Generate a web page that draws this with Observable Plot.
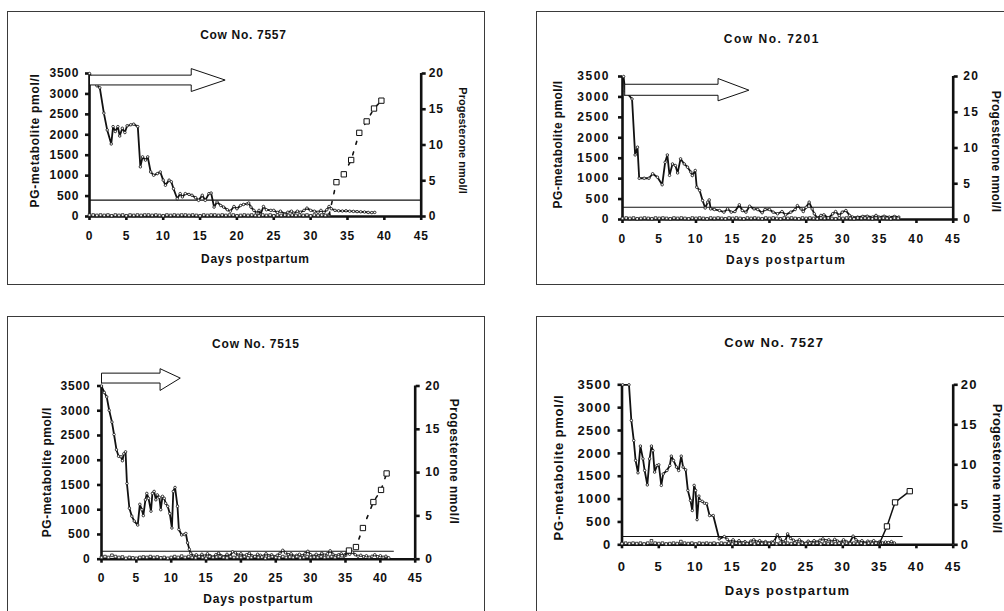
<!DOCTYPE html>
<html><head><meta charset="utf-8">
<script src="https://cdn.jsdelivr.net/npm/d3@7"></script>
<script src="https://cdn.jsdelivr.net/npm/@observablehq/plot@0.6"></script>
<style>
html,body{margin:0;padding:0;background:#fff;overflow:hidden;}
#page{position:relative;width:1004px;height:611px;overflow:hidden;background:#fff;}
.box{position:absolute;border:1.5px solid #3a3a3a;box-sizing:border-box;}
.chart{position:absolute;}
</style></head><body><div id="page"></div>
<script>
// ---------- shared axes / labels ----------
const xDomain = [0, 45];
const pgDomain = [0, 3500];
const progMax = 20;
const xTicks = [0, 5, 10, 15, 20, 25, 30, 35, 40, 45];
const pgTicks = [0, 500, 1000, 1500, 2000, 2500, 3000, 3500];
const progTicks = [0, 5, 10, 15, 20];
const xLabel = "Days postpartum";
const yLabelLeft = "PG-metabolite pmol/l";
const yLabelRight = "Progesterone nmol/l";
const cowTitles = ["Cow No. 7557", "Cow No. 7201", "Cow No. 7515", "Cow No. 7527"];

// ---------- Cow 7557 ----------
const pg7557 = [[0,3500],[1.0,3200],[1.4,3150],[1.95,2530],[2.4,2120],[2.95,1775],[3.2,2200],[3.5,2080],[3.85,2200],[4.1,1970],[4.45,2160],[4.8,2055],[5.1,2220],[5.6,2245],[6.0,2260],[6.55,2200],[6.9,1215],[7.2,1460],[7.6,1380],[7.9,1460],[8.3,1090],[8.7,1010],[9.2,1050],[9.6,1090],[10.0,890],[10.3,765],[10.8,890],[11.1,850],[11.4,680],[11.9,435],[12.3,560],[12.6,480],[13.0,560],[13.5,540],[13.9,520],[14.4,460],[14.8,395],[15.3,520],[15.7,395],[16.2,560],[16.5,575],[16.9,230],[17.3,355],[17.8,270],[18.2,230],[18.7,165],[19.1,130],[19.6,245],[20.0,190],[20.5,270],[20.9,295],[21.4,310],[21.6,330],[21.9,230],[22.3,150],[22.7,80],[23.0,150],[23.2,50],[23.6,245],[24.0,165],[24.6,150],[25.0,150],[25.5,100],[25.9,130],[26.5,65],[26.9,105],[27.4,130],[27.7,80],[28.2,130],[28.6,105],[29.1,150],[29.5,205],[30.0,150],[30.5,130],[31.0,105],[31.4,150],[31.8,100],[32.2,165],[32.5,245],[32.8,190],[33.3,150],[33.8,140],[34.3,135],[34.8,140],[35.3,130],[35.8,125],[36.3,120],[36.8,115],[37.3,110],[37.8,100],[38.3,95],[38.7,100]];
const prog7557Base = [[0,0.2],[0.5,0.2],[1,0.15],[1.5,0.2],[2,0.15],[2.5,0.2],[3,0.1],[3.5,0.2],[4,0.15],[4.5,0.2],[5,0.1],[5.5,0.2],[6,0.15],[6.5,0.2],[7,0.15],[7.5,0.2],[8,0.2],[8.5,0.15],[9,0.2],[9.5,0.15],[10,0.1],[10.5,0.2],[11,0.15],[11.5,0.2],[12,0.15],[12.5,0.2],[13,0.2],[13.5,0.15],[14,0.2],[14.5,0.15],[15,0.1],[15.5,0.2],[16,0.15],[16.5,0.2],[17,0.2],[17.5,0.15],[18,0.2],[18.5,0.15],[19,0.2],[19.5,0.2],[20,0.1],[20.5,0.15],[21,0.2],[21.5,0.15],[22,0.2],[22.5,0.15],[23,0.1],[23.5,0.2],[24,0.15],[24.5,0.2],[25,0.1],[25.5,0.2],[26,0.15],[26.5,0.2],[27,0.15],[27.5,0.2],[28,0.15],[28.5,0.2],[29,0.15],[29.5,0.2],[30,0.1],[30.5,0.2],[31,0.15],[31.5,0.2],[32,0.15],[32.5,0.2]];
const prog7557Rise = [[33.5,4.8],[34.5,5.9],[35.5,7.9],[36.6,11.7],[37.6,13.3],[38.6,15.1],[39.6,16.2]];
const thr7557 = [400, 0, 45];            // level, from day, to day
const arrow7557Days = [0, 13.8, 18.4];  // start, head base, tip
const arrow7557Levels = [3060, 3220, 3340, 3460, 3620]; // head bottom, body bottom, tip, body top, head top

// ---------- Cow 7201 ----------
const pg7201 = [[0.15,3500],[0.35,3150],[1.3,2950],[1.72,1580],[2.04,1770],[2.27,1010],[2.95,1010],[3.6,1010],[4.1,1120],[4.76,1035],[5.4,850],[5.8,1400],[6.1,1580],[6.4,1080],[6.8,1360],[7.2,1320],[7.5,1140],[7.9,1485],[8.4,1360],[8.85,1280],[9.3,1160],[9.5,1075],[9.9,1200],[10.1,790],[10.5,710],[10.9,465],[11.25,280],[11.6,425],[11.8,480],[12.0,260],[12.5,245],[13.2,220],[13.8,180],[14.3,260],[14.8,180],[15.3,195],[15.9,360],[16.3,220],[16.8,180],[17.3,325],[17.9,260],[18.4,245],[19.0,165],[19.4,245],[20.0,245],[20.5,180],[21.1,140],[21.7,195],[22.2,115],[22.9,180],[23.5,245],[23.8,340],[24.3,260],[24.6,195],[25.0,300],[25.4,425],[25.8,260],[26.1,140],[26.5,35],[27.0,100],[27.4,115],[28.0,35],[28.6,140],[29.0,195],[29.5,100],[29.9,180],[30.4,220],[30.9,100],[31.3,60],[32.0,60],[32.7,75],[33.3,80],[34.0,60],[34.5,100],[34.9,60],[35.6,80],[36.3,60],[37.0,75],[37.6,60]];
const prog7201Base = [[0,0.15],[0.5,0.2],[1,0.15],[1.5,0.2],[2,0.1],[2.5,0.15],[3,0.2],[3.5,0.15],[4,0.1],[4.5,0.2],[5,0.15],[5.5,0.2],[6,0.15],[6.5,0.1],[7,0.2],[7.5,0.15],[8,0.2],[8.5,0.15],[9,0.1],[9.5,0.2],[10,0.15],[10.5,0.2],[11,0.15],[11.5,0.1],[12,0.2],[12.5,0.15],[13,0.2],[13.5,0.15],[14,0.1],[14.5,0.2],[15,0.15],[15.5,0.2],[16,0.15],[16.5,0.1],[17,0.2],[17.5,0.15],[18,0.2],[18.5,0.15],[19,0.1],[19.5,0.2],[20,0.15],[20.5,0.2],[21,0.15],[21.5,0.1],[22,0.2],[22.5,0.15],[23,0.2],[23.5,0.15],[24,0.1],[24.5,0.2],[25,0.15],[25.5,0.2],[26,0.15],[26.5,0.1],[27,0.2],[27.5,0.15],[28,0.2],[28.5,0.15],[29,0.1],[29.5,0.2],[30,0.15],[30.5,0.2],[31,0.15],[31.5,0.1],[32,0.2],[32.5,0.15],[33,0.2],[33.5,0.15],[34,0.1],[34.5,0.2],[35,0.15],[35.5,0.2],[36,0.15],[36.5,0.1],[37,0.2],[37.5,0.15]];
const prog7201Rise = [];
const thr7201 = [300, 0, 45];
const arrow7201Days = [0.3, 13.0, 17.2];
const arrow7201Levels = [2905, 3040, 3165, 3310, 3450];

// ---------- Cow 7515 ----------
const pg7515 = [[0,3500],[0.4,3370],[0.75,3280],[1.1,3010],[1.5,2770],[1.8,2520],[2.15,2210],[2.45,2080],[2.8,2070],[3.0,1990],[3.2,2130],[3.45,2170],[3.65,1530],[4.0,1030],[4.35,870],[4.7,770],[5.2,690],[5.5,1110],[5.8,1000],[6.0,880],[6.3,1200],[6.5,1330],[6.75,1230],[7.1,970],[7.3,1330],[7.55,1370],[7.8,1200],[8.0,1300],[8.3,1250],[8.5,1000],[8.75,1270],[9.0,1230],[9.2,1130],[9.5,1070],[9.8,920],[10.1,630],[10.3,1370],[10.55,1450],[10.9,1070],[11.1,600],[11.5,490],[11.9,500],[12.1,520],[12.35,330],[12.6,200],[12.8,120],[13.2,60],[13.6,90],[14.0,50],[14.4,100],[14.8,60],[15.2,110],[15.6,70],[16.0,40],[16.4,90],[16.8,120],[17.2,70],[17.6,50],[18.0,100],[18.4,60],[18.8,150],[19.2,130],[19.6,80],[20.0,110],[20.4,60],[20.8,90],[21.2,120],[21.6,70],[22.0,50],[22.4,100],[22.8,80],[23.2,60],[23.6,110],[24.0,70],[24.4,90],[24.8,50],[25.2,80],[25.6,120],[26.0,180],[26.4,130],[26.8,90],[27.2,110],[27.6,60],[28.0,80],[28.4,100],[28.8,70],[29.2,110],[29.6,160],[30.0,90],[30.4,60],[30.8,100],[31.2,70],[31.6,120],[32.0,80],[32.4,110],[32.8,170],[33.2,100],[33.6,70],[34.0,90],[34.4,110],[34.8,60],[35.2,130],[35.6,100],[36.0,140],[36.4,90],[36.8,60],[37.2,80],[37.6,50],[38.0,70],[38.4,40],[38.8,60],[39.2,90],[39.6,50],[40.0,70],[40.4,40],[40.8,60],[41.2,30]];
const prog7515Base = [[0,0.2],[0.5,0.3],[1,0.2],[1.5,0.45],[2,0.3],[2.5,0.2],[3,0.25],[3.5,0.1],[4,0.2],[4.5,0.15],[5,0.1],[5.5,0.2],[6,0.25],[6.5,0.2],[7,0.3],[7.5,0.2],[8,0.25],[8.5,0.15],[9,0.2],[9.5,0.1],[10,0.2],[10.5,0.3],[11,0.2],[11.5,0.35],[12,0.2],[12.5,0.3],[13,0.2],[13.5,0.15],[14,0.3],[14.5,0.2],[15,0.1],[15.5,0.3],[16,0.2],[16.5,0.25],[17,0.3],[17.5,0.2],[18,0.15],[18.5,0.3],[19,0.2],[19.5,0.25],[20,0.2],[20.5,0.3],[21,0.15],[21.5,0.2],[22,0.3],[22.5,0.2],[23,0.25],[23.5,0.1],[24,0.2],[24.5,0.3],[25,0.2],[25.5,0.15],[26,0.3],[26.5,0.2],[27,0.25],[27.5,0.2],[28,0.3],[28.5,0.15],[29,0.2],[29.5,0.3],[30,0.2],[30.5,0.25],[31,0.2],[31.5,0.3],[32,0.2],[32.5,0.25],[33,0.3],[33.5,0.2],[34,0.3],[34.5,0.4],[35,0.5]];
const prog7515Rise = [[35.5,1.0],[36.5,1.4],[37.5,3.6],[39.0,6.6],[40.1,8.0],[40.9,9.9]];
const thr7515 = [160, 0, 42];
const arrow7515Days = [0, 8.4, 11.3];
const arrow7515Levels = [3410, 3560, 3660, 3760, 3850];

// ---------- Cow 7527 ----------
const pg7527 = [[0.1,3500],[0.95,3500],[1.27,2720],[1.6,2280],[1.85,1845],[2.17,1575],[2.5,2160],[2.85,1880],[3.08,1625],[3.44,1310],[3.75,1880],[4.0,2160],[4.2,2060],[4.43,1590],[4.75,1735],[5.0,1750],[5.34,1300],[5.6,1550],[6.1,1625],[6.5,1735],[6.7,1940],[7.0,1845],[7.4,1700],[7.7,1625],[8.05,1940],[8.3,1700],[8.65,1640],[8.95,1190],[9.3,970],[9.55,750],[9.8,1300],[10.0,1190],[10.2,550],[10.45,1065],[10.6,970],[10.9,950],[11.2,910],[11.5,900],[11.9,640],[12.4,640],[13.2,130],[13.9,180],[14.3,120],[14.7,60],[15.1,110],[15.5,50],[15.9,90],[16.3,40],[16.7,70],[17.1,30],[17.5,80],[17.9,110],[18.3,60],[18.7,90],[19.1,50],[19.5,70],[19.9,40],[20.3,60],[20.7,80],[21.1,220],[21.5,130],[21.9,60],[22.2,90],[22.5,240],[22.9,140],[23.3,100],[23.7,70],[24.1,110],[24.5,60],[24.9,30],[25.3,80],[25.7,50],[26.1,90],[26.5,60],[26.9,100],[27.3,130],[27.7,90],[28.1,110],[28.5,70],[28.9,120],[29.3,80],[29.7,50],[30.1,110],[30.5,70],[30.9,40],[31.4,190],[31.8,110],[32.2,60],[32.6,90],[33.0,40],[33.4,80],[33.8,60],[34.2,90],[34.6,50],[35.0,70],[35.4,40],[35.8,60],[36.2,50],[36.6,70],[37.0,40]];
const prog7527Base = [[0,0.15],[0.5,0.2],[1,0.15],[1.5,0.2],[2,0.15],[2.5,0.2],[3,0.1],[3.5,0.2],[4,0.5],[4.5,0.2],[5,0.15],[5.5,0.2],[6,0.1],[6.5,0.15],[7,0.2],[7.5,0.15],[8,0.4],[8.5,0.2],[9,0.15],[9.5,0.2],[10,0.1],[10.5,0.2],[11,0.15],[11.5,0.2],[12,0.15],[12.5,0.2],[13,0.1],[13.5,0.2],[14,0.15],[14.5,0.2],[15,0.1],[15.5,0.2],[16,0.15],[16.5,0.2],[17,0.15],[17.5,0.2],[18,0.1],[18.5,0.2],[19,0.15],[19.5,0.2],[20,0.15],[20.5,0.2],[21,0.1],[21.5,0.2],[22,0.15],[22.5,0.2],[23,0.15],[23.5,0.2],[24,0.1],[24.5,0.2],[25,0.15],[25.5,0.2],[26,0.15],[26.5,0.2],[27,0.1],[27.5,0.2],[28,0.15],[28.5,0.2],[29,0.15],[29.5,0.2],[30,0.1],[30.5,0.2],[31,0.15],[31.5,0.2],[32,0.15],[32.5,0.2],[33,0.1],[33.5,0.2],[34,0.15],[34.5,0.2],[35,0.2]];
const prog7527Rise = [[36.0,2.3],[37.1,5.3],[39.1,6.7]];
const thr7527 = [180, 0, 38.2];

// ---------- layout / style per panel ----------
const panels = [
  {name: cowTitles[0], pg: pg7557, base: prog7557Base, rise: prog7557Rise, thr: thr7557, arrowDays: arrow7557Days, arrowLevels: arrow7557Levels, dashed: true,
   box: [7, 11, 478, 274], svg: [9, 13, 473, 269], m: [60, 61.3, 66, 80],
   font: 12, ls: 0.7, lsL: 0.7, lsR: 0, fontR: 11,
   tOff: [-12, -35], xl: [0, 46], yl: [-54, -4.5], yr: [41.3, -4.5], pad: [10.8, 6.4, 3.6]},
  {name: cowTitles[1], pg: pg7201, base: prog7201Base, rise: prog7201Rise, thr: thr7201, arrowDays: arrow7201Days, arrowLevels: arrow7201Levels, dashed: true,
   box: [536, 11, 480, 274], svg: [538, 13, 466, 269], m: [63, 51.3, 63, 84],
   font: 12, ls: 1.5, lsL: 0.4, lsR: 0.3, fontR: 12,
   tOff: [-16, -34], xl: [-1.7, 44.3], yl: [-64, -3.5], yr: [42.3, 3.5], pad: [11.2, 8.5, 6]},
  {name: cowTitles[2], pg: pg7515, base: prog7515Base, rise: prog7515Rise, thr: thr7515, arrowDays: arrow7515Days, arrowLevels: arrow7515Levels, dashed: true,
   box: [7, 316, 478, 320], svg: [9, 318, 473, 293], m: [67.5, 67.3, 52.3, 92],
   font: 12, ls: 0.8, lsL: 0.5, lsR: 0.5, fontR: 12,
   tOff: [-2.5, -37.8], xl: [0, 43.6], yl: [-54.3, -0.4], yr: [38.3, -11], pad: [10.5, 7, 6]},
  {name: cowTitles[3], pg: pg7527, base: prog7527Base, rise: prog7527Rise, thr: thr7527, arrowDays: null, arrowLevels: null, dashed: false,
   box: [536, 316, 480, 320], svg: [538, 318, 466, 293], m: [66.3, 51.3, 66.7, 83.5],
   font: 13, ls: 1.3, lsL: 0.8, lsR: 0.2, fontR: 13,
   tOff: [-13.4, -37.6], xl: [0, 49.7], yl: [-63.2, 2.7], yr: [44, 3.7], pad: [12.5, 6.5, 3.5]}
];

const page = document.getElementById("page");
const INK = "#111";
const S = pgDomain[1] / progMax; // nmol/l -> pmol/l position on the shared y scale

function drawPanel(p) {
  const box = document.createElement("div");
  box.className = "box";
  Object.assign(box.style, {left: p.box[0] + "px", top: p.box[1] + "px", width: p.box[2] + "px", height: p.box[3] + "px"});
  page.appendChild(box);

  const pg = p.pg.map(([d, v]) => ({d, v}));
  const base = p.base.map(([d, v]) => ({d, v: v * S}));
  const rise = p.rise.map(([d, v]) => ({d, v: v * S}));
  const riseLine = rise.length ? [base[base.length - 1], ...rise] : [];
  const [tY, tX1, tX2] = p.thr;

  const marks = [
    Plot.ruleY([{y: tY, x1: tX1, x2: tX2}], {y: "y", x1: "x1", x2: "x2", stroke: INK, strokeWidth: 1.1}),
    Plot.ruleY([{y: pgDomain[0], x1: xDomain[0], x2: xDomain[1]}], {y: "y", x1: "x1", x2: "x2", stroke: INK, strokeWidth: 2.6}),
    Plot.ruleX([{x: xDomain[0], y1: pgDomain[0], y2: pgDomain[1]}, {x: xDomain[1], y1: pgDomain[0], y2: pgDomain[1]}], {x: "x", y1: "y1", y2: "y2", stroke: INK, strokeWidth: 2.6}),
    Plot.axisX({ticks: xTicks, tickSize: 4, tickPadding: p.pad[0], tickFormat: "d", strokeWidth: 2.6, stroke: INK, fill: INK, label: null}),
    Plot.axisY({anchor: "left", ticks: pgTicks, tickSize: 4, tickPadding: p.pad[1], tickFormat: "d", strokeWidth: 2.6, stroke: INK, fill: INK, label: null}),
    Plot.axisY({anchor: "right", ticks: progTicks.map(v => v * S), tickSize: 4, tickPadding: p.pad[2], tickFormat: d => String(Math.round(d / S)), strokeWidth: 2.6, stroke: INK, fill: INK, label: null}),
    Plot.line(pg, {x: "d", y: "v", stroke: INK, strokeWidth: 1.8}),
    Plot.dot(pg, {x: "d", y: "v", r: 1.25, fill: "white", stroke: INK, strokeWidth: 0.8}),
    Plot.dot(base, {x: "d", y: "v", symbol: "square", r: 1.5, fill: "white", stroke: INK, strokeWidth: 0.8}),
  ];
  if (riseLine.length) {
    marks.push(Plot.line(riseLine, {x: "d", y: "v", stroke: INK, strokeWidth: p.dashed ? 1.6 : 1.5, strokeDasharray: p.dashed ? "3,8" : null}));
    marks.push(Plot.dot(rise, {x: "d", y: "v", symbol: "square", r: 3.0, fill: "white", stroke: INK, strokeWidth: 1}));
  }
  if (p.arrowDays) {
    const [a0, a1, a2] = p.arrowDays;
    const [hb, bb, tip, bt, ht] = p.arrowLevels;
    const poly = [[a0, bb], [a1, bb], [a1, hb], [a2, tip], [a1, ht], [a1, bt], [a0, bt], [a0, bb]].map(([d, v]) => ({d, v}));
    marks.push(Plot.line(poly, {x: "d", y: "v", fill: "white", stroke: INK, strokeWidth: 1, curve: "linear"}));
  }
  marks.push(
    Plot.text([p.name], {text: d => d, frameAnchor: "top", lineAnchor: "bottom", textAnchor: "middle", dx: p.tOff[0], dy: p.tOff[1], fill: INK}),
    Plot.text([xLabel], {text: d => d, frameAnchor: "bottom", lineAnchor: "bottom", textAnchor: "middle", dx: p.xl[0], dy: p.xl[1], fill: INK}),
    Plot.text([yLabelLeft], {text: d => d, frameAnchor: "left", lineAnchor: "middle", textAnchor: "middle", rotate: -90, dx: p.yl[0], dy: p.yl[1], fill: INK}),
    Plot.text([yLabelRight], {text: d => d, frameAnchor: "right", lineAnchor: "middle", textAnchor: "middle", rotate: 90, dx: p.yr[0], dy: p.yr[1], fill: INK})
  );

  const svg = Plot.plot({
    width: p.svg[2], height: p.svg[3],
    marginTop: p.m[0], marginRight: p.m[1], marginBottom: p.m[2], marginLeft: p.m[3],
    x: {domain: xDomain},
    y: {domain: pgDomain},
    style: `background: transparent; overflow: visible; font-family: 'Liberation Sans', Arial, sans-serif; font-weight: bold; font-size: ${p.font}px; letter-spacing: ${p.ls}px; color: ${INK};`,
    marks
  });
  svg.querySelectorAll("text").forEach(t => {
    if (t.textContent === yLabelLeft) t.style.letterSpacing = p.lsL + "px";
    if (t.textContent === yLabelRight) { t.style.letterSpacing = p.lsR + "px"; t.style.fontSize = p.fontR + "px"; }
  });
  const wrap = document.createElement("div");
  wrap.className = "chart";
  Object.assign(wrap.style, {left: p.svg[0] + "px", top: p.svg[1] + "px"});
  wrap.appendChild(svg);
  page.appendChild(wrap);
}
panels.forEach(drawPanel);
</script></body></html>
